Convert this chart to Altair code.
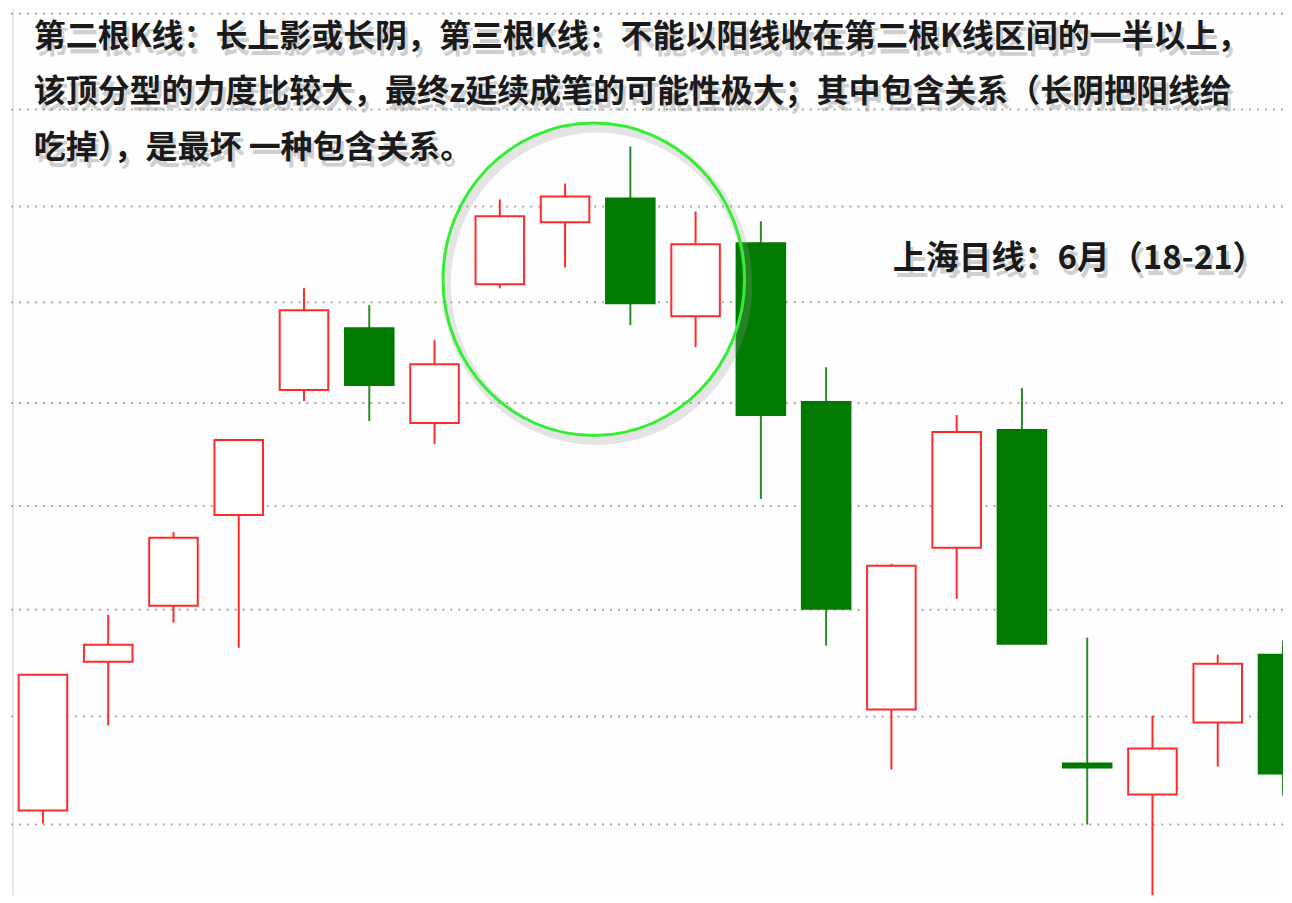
import altair as alt
import pandas as pd

# ---- candle data (arbitrary price units) ----
idx = list(range(20))
opens  = [190, 339, 395, 486, 611, 673, 578, 717, 779, 803, 685, 758, 599, 291, 453, 571, 237, 206, 278, 346]
closes = [326, 356, 463, 561, 691, 616, 637, 785, 805, 698, 757, 586, 392, 435, 569, 357, 233, 252, 337, 227]
highs  = [326, 386, 469, 561, 713, 696, 661, 802, 818, 855, 790, 780, 634, 437, 586, 613, 363, 285, 346, 360]
lows   = [177, 275, 378, 353, 600, 580, 557, 713, 734, 676, 654, 502, 355, 231, 402, 357, 176, 100, 234, 205]

grid_levels = [988, 892, 795, 699, 598, 495, 391, 284, 176]

text_lines = [
    "第二根K线：长上影或长阴，第三根K线：不能以阳线收在第二根K线区间的一半以上，",
    "该顶分型的力度比较大，最终z延续成笔的可能性极大；其中包含关系（长阴把阳线给",
    "吃掉），是最坏 一种包含关系。",
]
text_x = [-0.14, -0.14, -0.14]
text_y = [965, 910, 853]

label_text = ["上海日线：6月（18-21）"]
label_x = [13.02]
label_y = [742]

circle_x = [8.44]
circle_y = [722]

RED = "#ff2a2a"
GREEN_BODY = "#007a00"
GREEN_WICK = "#2a8a2a"

df = pd.DataFrame({"i": idx, "open": opens, "close": closes, "high": highs, "low": lows})
df["up"] = df["close"] > df["open"]
df["wick_color"] = df["up"].map({True: RED, False: GREEN_WICK})
df["fill"] = df["up"].map({True: "#ffffff", False: GREEN_BODY})
df["stroke"] = df["up"].map({True: RED, False: GREEN_BODY})

xscale = alt.Scale(domain=[-0.52, 19.0], nice=False, zero=False)
yscale = alt.Scale(domain=[105, 992], nice=False, zero=False)

base = alt.Chart(df)

grid = alt.Chart(pd.DataFrame({"v": grid_levels})).mark_rule(
    color="#a8a8a8", strokeWidth=2, strokeDash=[2, 6]
).encode(y=alt.Y("v:Q", scale=yscale, axis=None))

left_edge = alt.Chart(pd.DataFrame({"x": [-0.459]})).mark_rule(
    color="#e8e8e8", strokeWidth=2
).encode(x=alt.X("x:Q", scale=xscale, axis=None))

wicks = base.mark_rule(strokeWidth=2, clip=True).encode(
    x=alt.X("i:Q", scale=xscale, axis=None),
    y=alt.Y("low:Q", scale=yscale, axis=None),
    y2="high:Q",
    color=alt.Color("wick_color:N", scale=None),
)

bodies = base.transform_calculate(
    x0="datum.i - 0.372", x1="datum.i + 0.372"
).mark_bar(strokeWidth=2, clip=True).encode(
    x=alt.X("x0:Q", scale=xscale, axis=None),
    x2="x1:Q",
    y=alt.Y("open:Q", scale=yscale, axis=None),
    y2="close:Q",
    fill=alt.Fill("fill:N", scale=None),
    stroke=alt.Stroke("stroke:N", scale=None),
)

ellipse = "M -0.965 0 A 0.965 1 0 1 0 0.965 0 A 0.965 1 0 1 0 -0.965 0 Z"
circ_df = pd.DataFrame({"x": circle_x, "y": circle_y})
circ_shadow_df = pd.DataFrame({"x": [circle_x[0] + 0.05], "y": [circle_y[0] - 5]})

circle_shadow = alt.Chart(circ_shadow_df).mark_point(
    shape=ellipse, filled=False, size=313 ** 2, strokeWidth=9, color="#9a9a9a", opacity=0.25
).encode(x=alt.X("x:Q", scale=xscale, axis=None), y=alt.Y("y:Q", scale=yscale, axis=None))

circle = alt.Chart(circ_df).mark_point(
    shape=ellipse, filled=False, size=313 ** 2, strokeWidth=3, color="#33ee33", opacity=1
).encode(x=alt.X("x:Q", scale=xscale, axis=None), y=alt.Y("y:Q", scale=yscale, axis=None))

txt_df = pd.DataFrame({"x": text_x, "y": text_y, "t": text_lines})
lab_df = pd.DataFrame({"x": label_x, "y": label_y, "t": label_text})

FONT = "Noto Sans CJK SC"


def text_layer(d, size, color, dx=0, dy=0, opacity=1.0):
    return alt.Chart(d).mark_text(
        align="left", baseline="middle", font=FONT, fontSize=size, fontWeight="bold",
        color=color, dx=dx, dy=dy, opacity=opacity
    ).encode(
        x=alt.X("x:Q", scale=xscale, axis=None),
        y=alt.Y("y:Q", scale=yscale, axis=None),
        text="t:N",
    )


texts = [
    text_layer(txt_df, 32, "#7a7a7a", dx=3, dy=6, opacity=0.35),
    text_layer(txt_df, 32, "#1a1a1a"),
    text_layer(lab_df, 33, "#7a7a7a", dx=3, dy=6, opacity=0.35),
    text_layer(lab_df, 33, "#1a1a1a"),
]

chart = alt.layer(
    left_edge, grid, wicks, bodies, circle_shadow, circle, *texts
).properties(
    width=1276, height=887, padding=0, background="#fefefe"
).configure_view(stroke=None)

chart.save("out.html", embed_options={"renderer": "svg", "actions": False})
